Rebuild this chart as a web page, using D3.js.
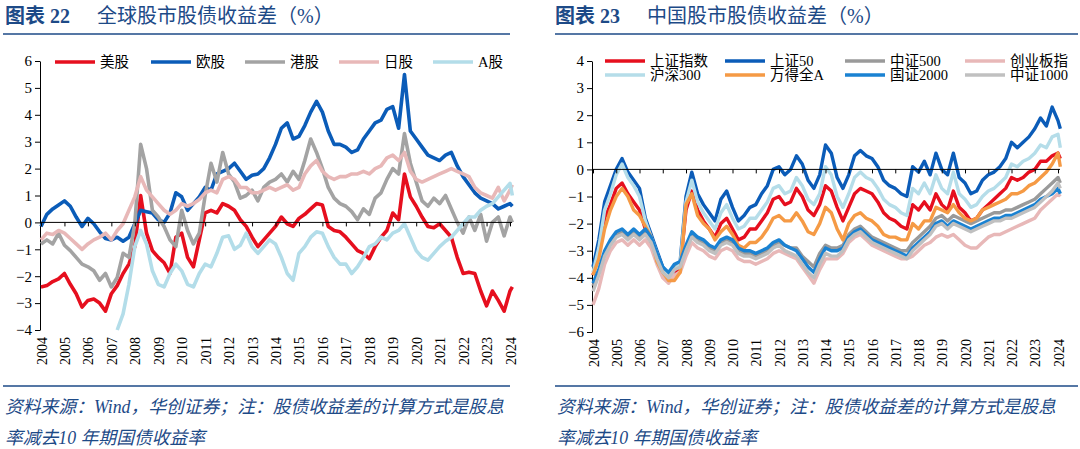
<!DOCTYPE html>
<html><head><meta charset="utf-8">
<script src="https://cdn.jsdelivr.net/npm/d3@7/dist/d3.min.js"></script>
<style>
html,body{margin:0;padding:0;background:#fff;}
svg{display:block;}
</style></head>
<body>
<svg id="chart" width="1080" height="449"></svg>
<script>
// ---------- shared time axis (quarterly, 2004Q1 .. 2024Q1 + last obs) ----------
const tickYears = ["2004","2005","2006","2007","2008","2009","2010","2011","2012","2013","2014","2015","2016","2017","2018","2019","2020","2021","2022","2023","2024"];
const dates = d3.range(2004, 2024.01, 0.25).concat([2024.1]);

// ---------- Chart 22: global ----------
const leftNames = ["美股","欧股","港股","日股","A股"];
const leftColors = ["#e60f1e","#0b5cb8","#a3a3a3","#e8b8b8","#b3dde9"];
const leftYTicks = [6,5,4,3,2,1,0,-1,-2,-3,-4];
const usStock = [-2.4,-2.35,-2.2,-2.1, -1.9,-2.3,-2.65,-3.15, -2.9,-2.85,-3.0,-3.3, -2.65,-2.35,-1.9,-1.55,
  -0.9,1.0,-0.4,-1.05, -1.3,-1.5,-1.9,-0.55, -0.4,-1.3,-1.65,-0.65, 0.35,0.45,0.35,0.7, 0.6,0.45,0.1,-0.15,
  -0.55,-0.9,-0.65,-0.4, -0.15,0.2,-0.05,-0.15, 0.15,0.3,0.5,0.7, 0.65,-0.15,-0.3,-0.35, -0.55,-0.8,-1.05,-1.15,
  -1.35,-0.9,-0.55,-0.3, 0.35,0.1,1.8,0.95, 0.6,0.2,-0.15,-0.2, -0.05,-0.3,-0.55,-1.3, -1.9,-1.85,-1.9,-2.55,
  -3.1,-2.55,-2.9,-3.3, -2.55,-2.4];
const euStock = [-0.15,0.3,0.5,0.65, 0.8,0.6,0.2,-0.15, 0.15,-0.05,-0.35,-0.6, -0.65,-0.55,-0.7,-0.55,
  -0.05,0.45,0.4,0.35, 0.1,0.0,0.35,1.1, 0.95,0.45,0.7,0.95, 1.3,1.2,1.8,1.9, 2.0,2.2,1.9,1.6,
  1.75,1.8,2.0,2.4, 2.9,3.5,3.7,3.1, 3.2,3.6,4.1,4.5, 4.1,3.4,2.9,2.9, 2.8,2.6,2.7,3.1,
  3.4,3.7,3.8,4.2, 4.3,3.5,5.5,3.4, 3.1,2.8,2.5,2.4, 2.3,2.5,2.6,2.1, 1.7,1.4,1.1,0.9,
  0.8,0.7,0.5,0.6, 0.7,0.6];
const hkStock = [-0.8,-0.65,-0.8,-0.4, -0.85,-1.05,-1.3,-1.55, -1.65,-1.8,-2.15,-1.9, -2.4,-2.05,-1.15,-1.3,
  -0.05,2.9,2.0,0.45, 0.2,-0.15,-0.65,-0.9, 0.45,-0.3,-0.8,-0.4, 1.0,2.2,1.5,2.6, 1.8,1.5,0.9,1.0,
  1.2,0.8,1.3,1.5, 1.6,1.8,1.5,1.9, 1.6,2.3,3.1,2.6, 2.0,1.3,0.9,0.7, 0.6,0.4,0.1,0.5,
  0.3,0.9,1.1,1.6, 2.0,1.8,3.3,2.2, 1.5,0.8,0.6,0.9, 0.7,1.0,0.5,0.0, -0.4,0.2,-0.3,0.3,
  -0.7,0.0,0.2,-0.5, 0.2,0.0];
const jpStock = [-0.65,-0.4,-0.45,-0.3, -0.4,-0.6,-0.8,-1.0, -0.8,-0.65,-0.55,-0.4, -0.65,-0.3,-0.05,0.45,
  0.95,1.7,1.2,0.95, 0.7,0.45,0.3,0.45, 0.7,0.6,0.7,0.85, 1.1,1.2,1.1,1.6, 1.7,1.6,1.3,1.3,
  1.1,1.1,1.2,1.3, 1.2,1.3,1.4,1.2, 1.3,1.8,2.1,2.3, 1.9,1.7,1.6,1.7, 1.7,1.8,1.8,1.9,
  1.8,2.0,2.1,2.4, 2.5,2.3,2.6,1.9, 1.6,1.5,1.6,1.7, 1.8,1.9,2.0,1.9, 1.8,1.7,1.3,1.1,
  1.0,0.9,1.3,0.8, 1.2,1.4];
const aStock = [null,null,null,null, null,null,null,null, null,null,null,null, null,-4.0,-3.4,-2.3,
  -0.9,-0.3,-0.8,-1.8, -2.3,-2.4,-1.9,-1.55, -1.8,-2.3,-2.4,-1.9, -1.55,-1.65,-1.15,-0.55, -0.5,-1.0,-0.85,-0.4,
  -0.9,-1.15,-0.9,-0.65, -0.8,-1.3,-1.9,-2.15, -1.15,-0.9,-0.55,-0.35, -0.4,-0.9,-1.3,-1.55, -1.55,-1.9,-1.65,-1.3,
  -0.9,-0.8,-0.55,-0.65, -0.4,-0.3,-0.05,-0.55, -1.05,-1.3,-1.4,-1.15, -0.9,-0.7,-0.55,-0.3, -0.05,0.2,0.2,0.45,
  0.6,0.7,0.95,1.2, 1.45,1.0];

// ---------- Chart 23: China ----------
const rightNames = ["上证指数","上证50","中证500","创业板指","沪深300","万得全A","国证2000","中证1000"];
const rightColors = ["#e60f1e","#0b5cb8","#9a9a9a","#e8b8b8","#b5dde9","#f59a45","#1a82d2","#c0c0c0"];
const rightYTicks = [4,3,2,1,0,-1,-2,-3,-4,-5,-6];
const shIndex = [-3.9,-3.1,-1.8,-1.3, -0.7,-0.5,-0.9,-1.2, -1.5,-2.2,-2.7,-3.2, -3.8,-4.0,-3.8,-3.6,
  -1.5,-0.8,-1.5,-1.9, -2.2,-2.5,-2.0,-1.8, -2.2,-2.6,-2.5,-2.2, -2.2,-1.9,-1.6,-1.1, -1.0,-1.3,-1.2,-0.7,
  -1.0,-1.5,-1.7,-1.3, -0.6,-0.8,-1.4,-1.9, -1.4,-0.9,-0.7,-0.8, -0.9,-1.2,-1.6,-1.8, -1.9,-2.1,-2.2,-1.3,
  -1.5,-1.2,-1.5,-0.9, -1.3,-1.5,-0.8,-1.4, -1.6,-1.9,-1.8,-1.5, -1.3,-1.1,-0.9,-0.7, -0.3,-0.4,-0.3,-0.1,
  0.0,0.3,0.3,0.5, 0.6,0.4];
const sz50 = [-3.6,-2.6,-1.2,-0.6, 0.0,0.4,-0.1,-0.4, -0.7,-1.8,-2.4,-3.0, -3.6,-3.9,-3.6,-3.4,
  -1.0,-0.1,-0.9,-1.3, -1.6,-1.9,-1.1,-0.8, -1.4,-1.9,-1.7,-1.4, -1.3,-0.9,-0.6,0.0, 0.1,-0.2,0.0,0.5,
  0.2,-0.4,-0.7,-0.2, 0.9,0.6,-0.3,-0.7, -0.2,0.5,0.7,0.5, 0.4,0.1,-0.4,-0.6, -0.7,-0.9,-1.0,0.1,
  -0.1,0.3,-0.2,0.6, 0.0,-0.2,0.6,-0.3, -0.5,-0.9,-0.8,-0.4, -0.2,-0.1,0.1,0.4, 1.0,0.8,1.0,1.2,
  1.5,1.9,1.6,2.3, 1.8,1.5];
const zz500 = [-4.3,-3.8,-3.1,-2.7, -2.4,-2.3,-2.5,-2.3, -2.5,-2.3,-2.6,-3.2, -3.7,-3.9,-3.6,-3.5,
  -2.9,-2.4,-2.6,-2.7, -2.9,-3.0,-2.7,-2.6, -2.7,-3.0,-3.1,-3.1, -3.2,-3.1,-3.0,-2.8, -2.7,-2.8,-2.9,-2.9,
  -3.2,-3.4,-3.6,-3.1, -2.8,-2.9,-2.9,-2.8, -2.4,-2.2,-2.1,-2.3, -2.5,-2.6,-2.7,-2.8, -2.9,-3.0,-3.0,-2.7,
  -2.5,-2.3,-2.1,-1.8, -1.7,-1.9,-1.7,-1.8, -1.9,-2.0,-1.9,-1.8, -1.7,-1.6,-1.6,-1.5, -1.5,-1.4,-1.3,-1.2,
  -1.1,-0.9,-0.7,-0.5, -0.3,-0.5];
const cyb = [-5.0,-4.4,-3.5,-3.0, -2.7,-2.6,-2.8,-2.6, -2.8,-2.6,-2.9,-3.5, -4.0,-4.2,-3.9,-3.8,
  -3.2,-2.7,-2.9,-3.0, -3.2,-3.3,-3.0,-2.9, -3.0,-3.3,-3.4,-3.4, -3.5,-3.4,-3.3,-3.1, -3.0,-3.1,-3.2,-3.3,
  -3.6,-3.9,-4.2,-3.7, -3.3,-3.3,-3.3,-3.1, -2.7,-2.5,-2.4,-2.6, -2.8,-2.9,-3.0,-3.1, -3.2,-3.3,-3.3,-3.2,
  -3.0,-2.8,-2.7,-2.5, -2.4,-2.5,-2.4,-2.6, -2.8,-2.9,-2.9,-2.7, -2.5,-2.4,-2.4,-2.3, -2.2,-2.1,-2.0,-1.9,
  -1.8,-1.5,-1.3,-1.1, -0.9,-1.0];
const hs300 = [-3.8,-2.9,-1.5,-0.9, -0.2,0.2,-0.3,-0.6, -1.0,-1.9,-2.5,-3.1, -3.7,-4.0,-3.7,-3.5,
  -1.2,-0.4,-1.2,-1.6, -1.9,-2.2,-1.6,-1.3, -1.8,-2.2,-2.1,-1.8, -1.8,-1.5,-1.2,-0.7, -0.6,-0.9,-0.8,-0.3,
  -0.6,-1.1,-1.3,-0.9, 0.1,-0.2,-1.0,-1.4, -0.9,-0.3,-0.1,-0.3, -0.4,-0.7,-1.1,-1.3, -1.4,-1.6,-1.7,-0.7,
  -0.9,-0.5,-0.9,-0.2, -0.7,-0.9,-0.1,-0.9, -1.1,-1.4,-1.3,-1.0, -0.8,-0.7,-0.5,-0.3, 0.2,0.1,0.3,0.4,
  0.6,0.9,0.8,1.2, 1.3,0.8];
const wdAll = [-3.9,-3.3,-2.2,-1.5, -1.0,-0.7,-1.0,-1.5, -1.7,-2.1,-2.5,-3.4, -3.8,-4.1,-4.1,-3.8,
  -1.3,-0.9,-1.7,-2.0, -2.2,-2.6,-2.3,-2.1, -2.4,-2.8,-2.9,-2.7, -2.7,-2.5,-2.2,-1.8, -1.7,-1.9,-1.9,-1.6,
  -1.9,-2.3,-2.4,-2.0, -1.4,-1.6,-2.2,-2.6, -2.0,-1.7,-1.6,-1.8, -1.9,-2.1,-2.4,-2.5, -2.5,-2.6,-2.6,-2.0,
  -2.2,-1.9,-1.9,-1.4, -1.5,-1.6,-1.3,-1.6, -1.8,-1.9,-1.8,-1.5, -1.4,-1.3,-1.2,-1.1, -0.9,-0.9,-0.8,-0.6,
  -0.5,-0.3,-0.1,0.2, 0.6,0.1];
const gz2000 = [-4.2,-3.7,-3.0,-2.6, -2.3,-2.2,-2.4,-2.2, -2.4,-2.2,-2.5,-3.1, -3.6,-3.8,-3.5,-3.4,
  -2.8,-2.3,-2.5,-2.6, -2.8,-2.9,-2.6,-2.5, -2.6,-2.9,-3.0,-3.0, -3.1,-3.0,-2.9,-2.7, -2.6,-2.8,-2.9,-3.0,
  -3.3,-3.6,-3.8,-3.3, -2.9,-3.0,-3.0,-2.9, -2.5,-2.3,-2.2,-2.4, -2.6,-2.7,-2.8,-2.9, -3.0,-3.1,-3.2,-2.9,
  -2.7,-2.5,-2.3,-2.0, -1.9,-2.1,-1.9,-2.0, -2.1,-2.2,-2.1,-2.0, -1.9,-1.8,-1.8,-1.7, -1.7,-1.6,-1.5,-1.4,
  -1.3,-1.1,-1.0,-0.9, -0.7,-0.9];
const zz1000 = [-4.5,-3.9,-3.2,-2.8, -2.5,-2.4,-2.6,-2.4, -2.6,-2.4,-2.7,-3.3, -3.8,-4.0,-3.7,-3.6,
  -3.0,-2.5,-2.7,-2.8, -3.0,-3.1,-2.8,-2.7, -2.8,-3.1,-3.2,-3.2, -3.3,-3.2,-3.1,-2.9, -2.8,-3.0,-3.1,-3.2,
  -3.5,-3.8,-4.0,-3.5, -3.1,-3.2,-3.2,-3.0, -2.6,-2.4,-2.3,-2.5, -2.7,-2.8,-2.9,-3.0, -3.1,-3.2,-3.3,-3.0,
  -2.8,-2.6,-2.4,-2.1, -2.0,-2.2,-2.0,-2.1, -2.2,-2.3,-2.2,-2.1, -2.0,-1.9,-1.9,-1.8, -1.8,-1.7,-1.6,-1.5,
  -1.4,-1.2,-1.0,-0.8, -0.5,-0.7];

const leftSeries = [usStock, euStock, hkStock, jpStock, aStock];
const rightSeries = [shIndex, sz50, zz500, cyb, hs300, wdAll, gz2000, zz1000];

// ---------- drawing ----------
const svg = d3.select("#chart");
const navy = "#1d4a87";
const serif = "'Liberation Serif','Times New Roman','Noto Sans CJK SC',serif";

function panel(cfg) {
  const g = svg.append("g");
  // title
  const t = g.append("text").attr("x", cfg.tx).attr("y", 23)
    .attr("font-family", serif).attr("font-size", 20).attr("font-weight", "bold").attr("fill", navy);
  t.append("tspan").text(cfg.label);
  t.append("tspan").attr("x", cfg.tx + 92).attr("font-weight", "normal").text(cfg.title);
  g.append("line").attr("x1", cfg.lx1).attr("x2", cfg.lx2).attr("y1", 34).attr("y2", 34)
    .attr("stroke", navy).attr("stroke-width", 1.6);
  g.append("line").attr("x1", cfg.lx1).attr("x2", cfg.lx2).attr("y1", 386).attr("y2", 386)
    .attr("stroke", navy).attr("stroke-width", 1.6);
  // footer
  const f = g.append("text").attr("font-family", serif).attr("font-style", "italic")
    .attr("font-size", 17.8).attr("fill", navy);
  f.append("tspan").attr("x", cfg.fx).attr("y", 413).text("资料来源：Wind，华创证券；注：股债收益差的计算方式是股息");
  f.append("tspan").attr("x", cfg.fx).attr("y", 444).text("率减去10 年期国债收益率");

  const x = d3.scaleLinear().domain([2004, 2024]).range(cfg.xr);
  const y = d3.scaleLinear().domain(cfg.yd).range(cfg.yr);

  // y axis
  const ya = g.append("g").attr("transform", `translate(${cfg.xr[0]-1},0)`)
    .call(d3.axisLeft(y).tickValues(cfg.yticks).tickSize(5).tickSizeOuter(0).tickFormat(d3.format("d")));
  ya.selectAll("text").attr("font-family", serif).attr("font-size", 15).attr("fill", "#000").attr("x", -8);
  ya.selectAll("line,path").attr("stroke", "#000");

  // series
  const line = d3.line().defined(d => d[1] !== null).x(d => x(d[0])).y(d => y(d[1]));
  cfg.series.forEach((s, i) => {
    g.append("path").datum(dates.map((d, j) => [d, s[j]]))
      .attr("d", line).attr("fill", "none").attr("stroke", cfg.colors[i])
      .attr("stroke-width", cfg.sw).attr("stroke-linejoin", "round");
  });

  // x axis at zero
  const xa = g.append("g").attr("transform", `translate(0,${y(0)})`)
    .call(d3.axisBottom(x).tickValues(tickYears.map(Number)).tickSize(4).tickSizeOuter(0).tickFormat(""));
  xa.selectAll("line,path").attr("stroke", "#000");
  xa.select(".domain").attr("d", `M${cfg.xr[0]-1},0H${cfg.xr[1]+2}`);

  // rotated year labels
  g.selectAll("text.yr").data(tickYears).join("text").attr("class", "yr")
    .attr("transform", d => `translate(${x(+d)+1},${cfg.yr[0]+7}) rotate(-90)`)
    .attr("text-anchor", "end").attr("dominant-baseline", "central")
    .attr("font-family", serif).attr("font-size", 14).attr("fill", "#000").text(d => d);

  // legend
  cfg.names.forEach((n, i) => {
    const c = i % cfg.cols, r = Math.floor(i / cfg.cols);
    const lx = cfg.legX[c], ly = cfg.legY + r * 14;
    g.append("line").attr("x1", lx).attr("x2", lx + 40).attr("y1", ly).attr("y2", ly)
      .attr("stroke", cfg.colors[i]).attr("stroke-width", 3.6);
    g.append("text").attr("x", lx + cfg.legGap).attr("y", ly).attr("dominant-baseline", "central")
      .attr("font-family", serif).attr("font-size", 14.5).attr("fill", "#000").text(n);
  });
}

panel({label: "图表 22", title: "全球股市股债收益差（%）", tx: 5, lx1: 3, lx2: 510, fx: 5,
  xr: [41, 510], yd: [-4, 6], yr: [330, 61], yticks: leftYTicks, sw: 3.6,
  series: leftSeries, colors: leftColors, names: leftNames, cols: 5,
  legX: [55, 151, 245, 339, 433], legY: 62, legGap: 45});
panel({label: "图表 23", title: "中国股市股债收益差（%）", tx: 555, lx1: 555, lx2: 1078, fx: 557,
  xr: [593, 1058], yd: [-6, 4], yr: [332, 61], yticks: rightYTicks, sw: 3.4,
  series: rightSeries, colors: rightColors, names: rightNames, cols: 4,
  legX: [605, 725, 845, 965], legY: 61, legGap: 45});
</script>
</body></html>
